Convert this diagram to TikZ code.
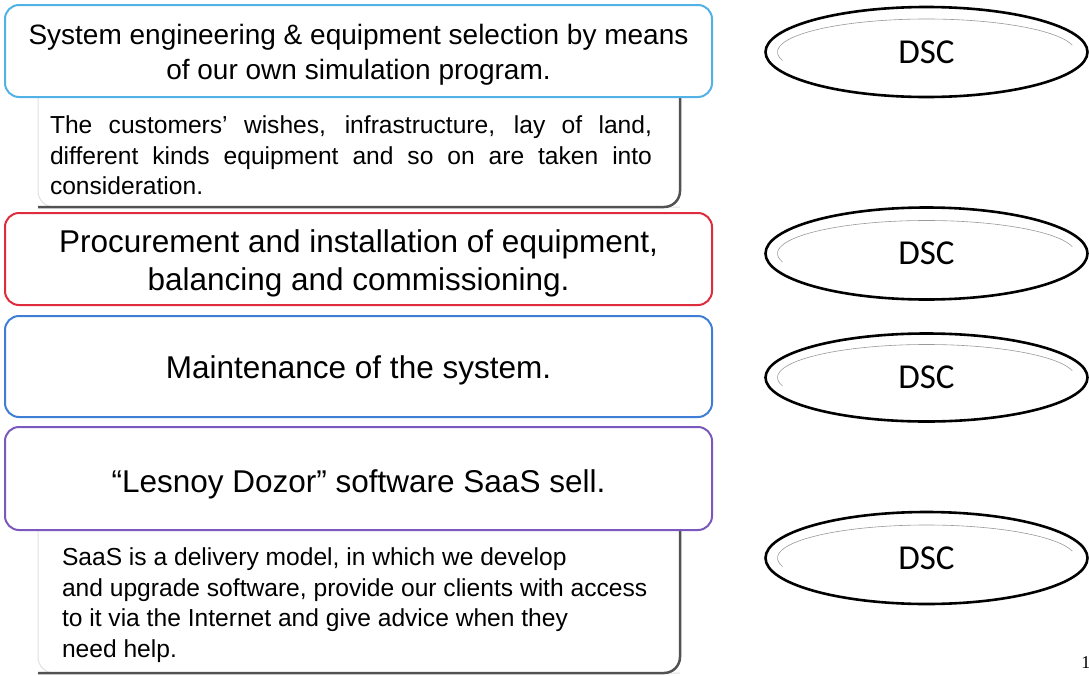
\documentclass[tikz,border=0pt]{standalone}
\usepackage{fontspec}
\setmainfont{Liberation Sans}
\newfontfamily\dscfont{Carlito}
\newfontfamily\pagefont{Liberation Serif}
\usetikzlibrary{shapes}
\definecolor{skyblue}{HTML}{52B2E6}
\definecolor{red}{HTML}{DE2B3E}
\definecolor{blue}{HTML}{3F7ED6}
\definecolor{purple}{HTML}{7B58BC}
\tikzset{
	every node/.style={outer sep=0pt},
	stage/.style={draw, rounded corners=14pt, line width=2pt, fill=white, minimum width=707pt, anchor=north west, inner sep=0pt},
	stagetext/.style={align=center, inner sep=0pt, font=\fontsize{31.5}{38}\selectfont},
	note/.style={minimum width=642pt, anchor=north west, inner sep=0pt},
	notetext/.style={anchor=north west, inner sep=0pt, font=\fontsize{24.6}{30.5}\selectfont},
	noteedge/.style={draw=black!68, line width=2.5pt, rounded corners=16pt},
	notefade/.style={draw=black!12, line width=1pt, rounded corners=16pt},
	dsc/.style={ellipse, draw, line width=2.6pt, minimum width=322pt, minimum height=90pt, inner sep=0pt, font=\dscfont\fontsize{35}{36}\selectfont},
	glint/.style={draw=black!40, line width=0.6pt}
}

\begin{document}
\begin{tikzpicture}[x=1pt, y=-1pt]
			\useasboundingbox (0,0) rectangle (1089,675);
			
			% notes under the stages
			\node (n1) [note, minimum height=110pt] at (38,97) {};
			\node (n2) [note, minimum height=143pt] at (38,530) {};
			\foreach \n in {n1,n2} {
				\draw[notefade] (\n.south east) -| (\n.north west);
				\draw[noteedge] (\n.north east) |- (\n.south west);
			}
			\node (n1txt) [notetext, text width=602pt, align=justify] at (50,116)
			{The customers' wishes, infrastructure, lay of land,\linebreak different kinds equipment and so on are taken into\linebreak consideration.};
			\node (n2txt) [notetext, align=left] at (62,548)
			{SaaS is a delivery model, in which we develop\\and upgrade software, provide our clients with access\\to it via the Internet and give advice when they\\need help.};
			
			% stages
			\node (s1) [stage, draw=skyblue, minimum height=92pt] at (5,5) {};
			\node (s2) [stage, draw=red, minimum height=92pt] at (5,213) {};
			\node (s3) [stage, draw=blue, minimum height=101pt] at (5,316) {};
			\node (s4) [stage, draw=purple, minimum height=103pt] at (5,427) {};
			\node (s1txt) [stagetext, font=\fontsize{28}{35}\selectfont] at ([yshift=-4pt]s1.center)
			{System engineering \& equipment selection by means\\of our own simulation program.};
			\node (s2txt) [stagetext] at ([yshift=-4pt]s2.center)
			{Procurement and installation of equipment,\\balancing and commissioning.};
			\node (s3txt) [stagetext] at ([yshift=-4pt]s3.center) {Maintenance of the system.};
			\node (s4txt) [stagetext] at ([yshift=-6pt]s4.center) {“Lesnoy Dozor” software SaaS sell.};
			
			% DSC
			\node (d1) [dsc] at (926.5,52) {DSC};
			\node (d2) [dsc, minimum height=92pt] at (926.5,253.5) {DSC};
			\node (d3) [dsc, minimum height=88pt] at (926.5,377.5) {DSC};
			\node (d4) [dsc, minimum height=92pt] at (926.5,558) {DSC};
			\foreach \d in {d1,d2,d3,d4}
				\draw[glint] (\d.center) ++(-12:149 and 33) arc[start angle=-12, end angle=-195, x radius=149, y radius=33];
			
			\node (pg) [anchor=base west, font=\pagefont\fontsize{18}{20}\selectfont] at (1078,668) {1};
		\end{tikzpicture}
\end{document}
